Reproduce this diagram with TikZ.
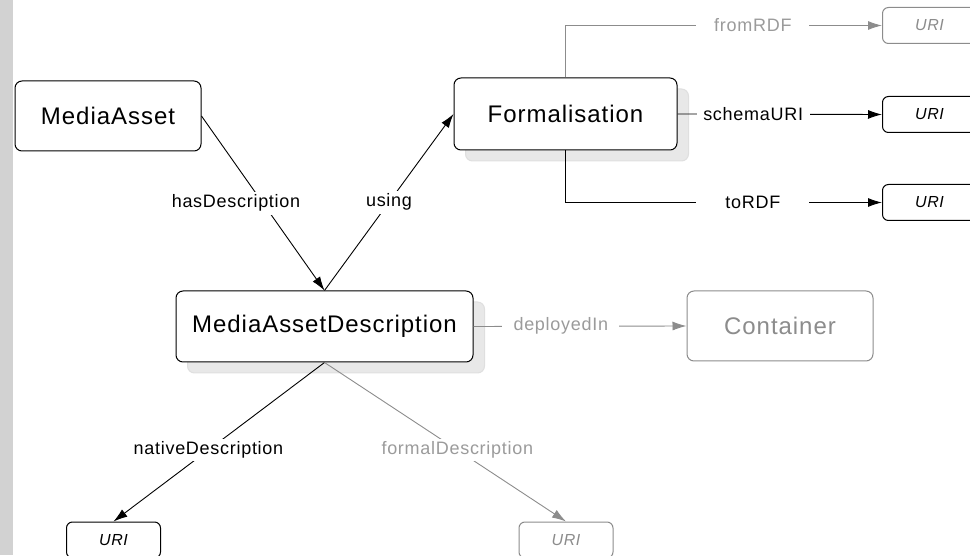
\documentclass[tikz,border=0pt]{standalone}
\usepackage{fontspec}
\setmainfont{Liberation Sans}[LetterSpace=4]
\usepackage{tikz}
\usetikzlibrary{arrows.meta,shadows}
\definecolor{MAFaded}{RGB}{140,140,140}
\definecolor{MAFadedText}{RGB}{155,155,155}
\definecolor{MAShadow}{RGB}{232,232,232}
\definecolor{MAStrip}{RGB}{210,210,210}

\begin{document}
\begin{tikzpicture}[x=1pt,y=1pt,
  cls/.style n args={3}{draw=#1,text=#1,line width=1pt,rounded corners=7pt,minimum width=#2pt,minimum height=#3pt,inner sep=0pt,fill=white,font=\fontsize{24}{28}\selectfont},
  shd/.style={general shadow={shadow xshift=11.5pt,shadow yshift=-11pt,fill=MAShadow,draw=gray!25}},
  uri/.style={draw=#1,text=#1,line width=1pt,rounded corners=6pt,minimum width=94pt,minimum height=36pt,inner sep=0pt,fill=white,font=\fontsize{16}{19}\selectfont\itshape},
  lbl/.style={fill=white,inner sep=3pt,font=\fontsize{18}{21}\selectfont},
  hlbl/.style={lbl,minimum width=113pt},
  rel/.style={line width=0.9pt,-{Latex[length=14pt,width=9pt]}}]
\fill[MAStrip] (0,0) rectangle (13,555);
\useasboundingbox (0,0) rectangle (970,555);
% classes
\node[cls={black}{186}{70}] (asset) at (108,439) {MediaAsset};
\node[cls={black}{223}{72},shd] (formal) at (565.5,441) {Formalisation};
\node[cls={black}{297}{71},shd] (desc) at (324.5,228.5) {MediaAssetDescription};
\node[cls={MAFaded}{186}{70}] (cont) at (780,229) {Container};
% literals
\foreach \y/\c/\n in %
{529.5/MAFaded/u0,440.5/black/u1,352.5/black/u2} {
   \node[uri=\c] (\n) at (929.5,\y) {URI};
}
\node[uri=black] (u3) at (113.5,15) {URI};
\node[uri=MAFaded] (u4) at (566,15) {URI};
% properties
\draw[rel] (asset.east) -- (desc.north) node[lbl,pos=0.5,xshift=-27pt] {hasDescription};
\draw[rel] (desc.north) -- (formal.west) node[lbl,pos=0.5] {using};
\draw[rel,MAFaded] (formal.north) |- (u0.west) node[hlbl,pos=0.796,text=MAFadedText] {fromRDF};
\draw[rel] (formal.east) -- (u1.west) node[hlbl,pos=0.37] {schemaURI};
\draw[rel] (formal.south) |- (u2.west) node[hlbl,pos=0.796] {toRDF};
\draw[rel,MAFaded] (desc.east) -- (cont.west) node[lbl,pos=0.41,minimum width=117pt,text=MAFadedText] {deployedIn};
\draw[rel] (desc.south) -- (u3.north) node[lbl,pos=0.55] {nativeDescription};
\draw[rel,MAFaded] (desc.south) -- (u4.north) node[lbl,pos=0.55,text=MAFadedText] {formalDescription};
\end{tikzpicture}
\end{document}
